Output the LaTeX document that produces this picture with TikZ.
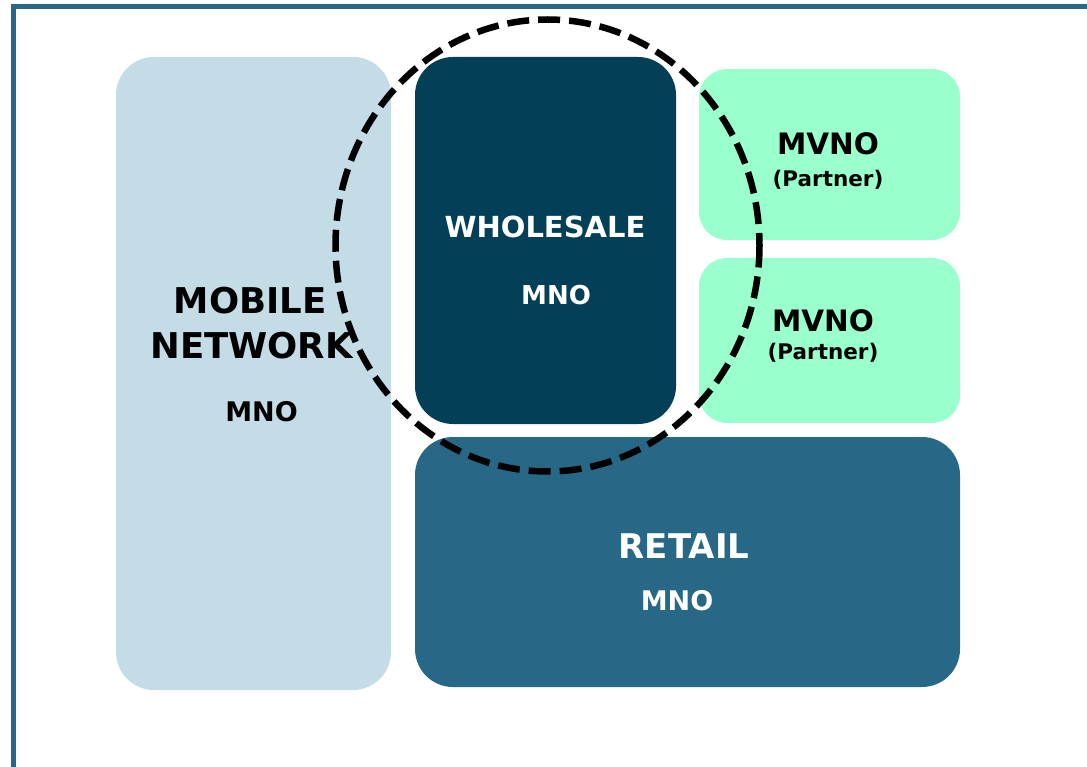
\documentclass[tikz,border=0pt]{standalone}
\usepackage{fontspec}
\setmainfont{DejaVu Sans}
\definecolor{framecol}{HTML}{27688A}
\definecolor{netcol}{HTML}{C4DCE6}
\definecolor{wholecol}{HTML}{033F57}
\definecolor{mvnocol}{HTML}{99FFCC}
\definecolor{retailcol}{HTML}{266886}
\tikzset{
  block/.style={inner sep=0pt,rounded corners=38pt},
  lbl/.style={anchor=base,inner sep=0pt,font=\bfseries\fontsize{#1}{#1}\selectfont},
  ring/.style={line width=6.5pt,dash pattern=on 22pt off 9pt}
}
\begin{document}
\begin{tikzpicture}[x=1pt,y=-1pt]
\useasboundingbox(0,0)rectangle(1087,767);
%frame
\draw[framecol,line width=5pt](13.5,767)--(13.5,6.5)--(1087,6.5);
%blocks
\node[block,fill=netcol,minimum width=275pt,minimum height=633pt](net)at(253.5,373.5){};
\node[block,fill=wholecol,minimum width=261pt,minimum height=367pt](whole)at(545.5,240.5){};
\node[block,fill=mvnocol,rounded corners=28pt,minimum width=261pt,minimum height=171pt](mvnoa)at(829.5,154.5){};
\node[block,fill=mvnocol,rounded corners=28pt,minimum width=261pt,minimum height=165pt](mvnob)at(829.5,340.5){};
\node[block,fill=retailcol,minimum width=545pt,minimum height=250pt](retail)at(687.5,562){};
%labels
\node[lbl=35.5](netname)at(250,313){MOBILE};
\node[lbl=35.5](netname2)at(251.5,358){NETWORK};
\node[lbl=27](netmno)at(261.5,421){MNO};
\node[lbl=29,white](wholename)at(545,238){WHOLESALE};
\node[lbl=26,white](wholemno)at(556,305){MNO};
\node[lbl=29.5](mvnoaname)at(828,155){MVNO};
\node[lbl=21.5](mvnoasub)at(828,186.5){(Partner)};
\node[lbl=29.5](mvnobname)at(823,331){MVNO};
\node[lbl=21.5](mvnobsub)at(823,359.5){(Partner)};
\node[lbl=34,white](retailname)at(684,558){RETAIL};
\node[lbl=27,white](retailmno)at(677,610){MNO};
%dashed ring
\draw[ring](547.5,245.5)ellipse[x radius=212,y radius=226];
\end{tikzpicture}
\end{document}
